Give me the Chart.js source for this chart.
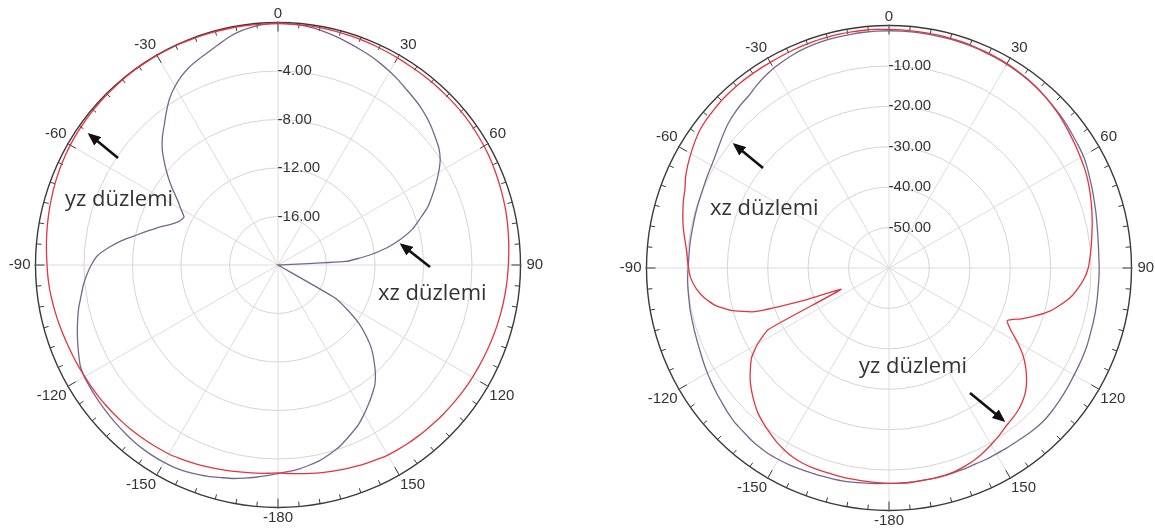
<!DOCTYPE html>
<html lang="tr">
<head>
<meta charset="UTF-8" />
<title>yz / xz düzlemi ışıma diyagramları</title>
<script src="https://cdn.jsdelivr.net/npm/chart.js"></script>
<style>
  body { margin: 0; background: #fff; overflow: hidden; width: 1155px; height: 531px; position: relative; }
  canvas { position: absolute; }
  #leftChart { left: -22px; top: 4px; }
  #rightChart { left: 589px; top: 7px; }
  .note { position: absolute; font-family: 'Open Sans', sans-serif; font-size: 22px; line-height: 1; color: #333; white-space: nowrap; }
  svg { position: absolute; left: 0; top: 0; }
</style>
</head>
<body>
<canvas id="leftChart" width="600" height="524"></canvas>
<canvas id="rightChart" width="600" height="524"></canvas>

<div class="note" style="left:65px;top:186px">yz düzlemi</div>
<div class="note" style="left:378px;top:280px">xz düzlemi</div>
<div class="note" style="left:710px;top:195px">xz düzlemi</div>
<div class="note" style="left:859px;top:353px">yz düzlemi</div>

<svg width="1155" height="531">
  <defs>
    <marker id="head" markerUnits="userSpaceOnUse" markerWidth="13" markerHeight="11" refX="10" refY="5.5" orient="auto">
      <path d="M0,0 L13,5.5 L0,11 z" fill="#111" />
    </marker>
  </defs>
  <g stroke="#111" stroke-width="2.6" marker-end="url(#head)">
    <line x1="118" y1="158" x2="90" y2="135" />
    <line x1="430" y1="267" x2="402" y2="245" />
    <line x1="763" y1="168" x2="735" y2="145" />
    <line x1="970" y1="393" x2="1003" y2="420" />
  </g>
</svg>

<script>
  // angle categories, 3 degree steps, clockwise from the top
  const angles = [
    0, 3, 6, 9, 12, 15, 18, 21, 24, 27, 30, 33, 36, 39, 42, 45, 48, 51, 54, 57,
    60, 63, 66, 69, 72, 75, 78, 81, 84, 87, 90, 93, 96, 99, 102, 105, 108, 111, 114, 117,
    120, 123, 126, 129, 132, 135, 138, 141, 144, 147, 150, 153, 156, 159, 162, 165, 168, 171, 174, 177,
    180, 183, 186, 189, 192, 195, 198, 201, 204, 207, 210, 213, 216, 219, 222, 225, 228, 231, 234, 237,
    240, 243, 246, 249, 252, 255, 258, 261, 264, 267, 270, 273, 276, 279, 282, 285, 288, 291, 294, 297,
    300, 303, 306, 309, 312, 315, 318, 321, 324, 327, 330, 333, 336, 339, 342, 345, 348, 351, 354, 357,
  ]

  // left pattern (dB), 0..180 then -177..-3
  const leftYz = [
    -0.10, -0.10, -0.11, -0.12, -0.13, -0.15, -0.17, -0.20, -0.23, -0.26,
    -0.28, -0.30, -0.30, -0.30, -0.30, -0.30, -0.30, -0.30, -0.32, -0.35,
    -0.38, -0.42, -0.48, -0.54, -0.60, -0.66, -0.72, -0.80, -0.87, -0.94,
    -1.00, -1.05, -1.10, -1.15, -1.20, -1.25, -1.30, -1.35, -1.40, -1.44,
    -1.48, -1.52, -1.56, -1.60, -1.64, -1.68, -1.72, -1.76, -1.80, -1.85,
    -1.90, -2.00, -2.10, -2.20, -2.30, -2.40, -2.50, -2.60, -2.70, -2.78,
    -2.85,
    -2.80, -2.74, -2.68, -2.60, -2.50, -2.40, -2.30, -2.20, -2.10, -2.00,
    -1.95, -1.90, -1.85, -1.80, -1.76, -1.72, -1.68, -1.65, -1.62, -1.60,
    -1.55, -1.50, -1.45, -1.38, -1.30, -1.22, -1.14, -1.06, -1.00, -0.95,
    -0.88, -0.80, -0.72, -0.64, -0.56, -0.48, -0.40, -0.33, -0.27, -0.22,
    -0.18, -0.15, -0.12, -0.10, -0.08, -0.07, -0.06, -0.05, -0.05, -0.05,
    -0.05, -0.05, -0.06, -0.06, -0.07, -0.08, -0.08, -0.09, -0.10,
  ]
  const leftXz = [
    -0.05, -0.08, -0.15, -0.27, -0.42, -0.60, -0.80, -0.98, -1.15, -1.36,
    -1.58, -1.80, -2.05, -2.25, -2.45, -2.70, -2.98, -3.30, -3.60, -4.05,
    -4.70, -5.40, -6.10, -6.80, -7.70, -8.50, -9.60, -10.90, -12.50, -14.40,
    -20, -20, -20, -20, -20, -20, -20, -20, -20, -20,
    -14.6, -13.1, -11.7, -10.6, -9.6, -8.8, -8.0, -7.3, -6.8, -6.3,
    -5.8, -5.3, -4.9, -4.5, -4.1, -3.8, -3.5, -3.3, -3.1, -2.95,
    -2.8,
    -2.6, -2.4, -2.2, -2.0, -1.85, -1.65, -1.5, -1.35, -1.25, -1.2,
    -1.18, -1.18, -1.2, -1.25, -1.3, -1.35, -1.4, -1.45, -1.5, -1.55,
    -1.7, -2.0, -2.3, -2.6, -2.9, -3.2, -3.55, -3.85, -4.2, -4.6,
    -5.1, -6.0, -7.0, -8.1, -9.0, -9.8, -10.6, -11.1, -11.3, -10.75,
    -10.1, -9.2, -8.3, -7.4, -6.5, -5.75, -5.1, -4.35, -3.6, -3.0,
    -2.5, -2.1, -1.8, -1.5, -1.15, -0.75, -0.45, -0.25, -0.1,
  ]

  // right pattern (dB)
  const rightYz = [
    -0.95, -1.0, -1.05, -1.1, -1.12, -1.15, -1.2, -1.3, -1.4, -1.5,
    -1.6, -1.8, -2.0, -2.3, -2.6, -3.0, -3.4, -3.9, -4.4, -4.85,
    -5.3, -5.7, -6.2, -6.8, -7.4, -8.0, -8.6, -9.2, -9.7, -10.2,
    -10.7, -11.6, -12.9, -14.4, -16.5, -18.8, -21.8, -24.9, -28.0, -26.2,
    -23.3, -20.5, -18.2, -16.2, -14.5, -13.3, -12.4, -11.8, -11.2, -10.3,
    -9.5, -8.7, -8.0, -7.5, -7.1, -6.9, -6.8, -6.8, -6.7, -6.7,
    -6.7,
    -6.8, -6.9, -7.0, -7.0, -7.1, -7.1, -7.1, -7.2, -7.5, -8.1,
    -8.8, -9.7, -10.6, -11.6, -12.9, -14.3, -15.8, -17.6, -19.5, -22.5,
    -26.5, -47.0, -38.0, -25.0, -19.5, -15.9, -13.6, -12.0, -10.9, -10.4,
    -10.0, -9.5, -8.7, -7.9, -7.2, -6.5, -5.9, -4.9, -4.1, -3.4,
    -2.7, -2.1, -1.8, -1.6, -1.4, -1.3, -1.25, -1.25, -1.25, -1.25,
    -1.2, -1.1, -1.0, -0.9, -0.9, -0.85, -0.85, -0.85, -0.9,
  ]
  const rightXz = [
    -1.3, -1.3, -1.3, -1.35, -1.4, -1.4, -1.45, -1.5, -1.6, -1.7,
    -1.8, -1.95, -2.1, -2.3, -2.6, -2.9, -3.2, -3.5, -3.9, -4.2,
    -4.5, -5.0, -5.6, -6.1, -6.6, -7.0, -7.4, -7.7, -7.9, -8.0,
    -8.0, -8.0, -8.0, -7.9, -7.8, -7.7, -7.6, -7.4, -7.3, -7.2,
    -7.1, -6.9, -6.7, -6.5, -6.3, -6.2, -6.3, -6.5, -6.7, -6.8,
    -6.9, -6.9, -7.0, -6.9, -6.9, -6.8, -6.8, -6.8, -6.7, -6.7,
    -6.7,
    -6.6, -6.5, -6.3, -6.1, -6.0, -5.9, -5.8, -5.6, -5.4, -5.3,
    -5.2, -5.3, -5.5, -5.8, -6.0, -6.4, -6.9, -7.3, -7.7, -8.1,
    -8.5, -8.9, -9.2, -9.4, -9.6, -9.7, -9.9, -10.0, -10.1, -10.3,
    -10.4, -10.4, -10.4, -10.4, -10.3, -10.2, -10.1, -9.9, -9.6, -9.3,
    -8.8, -8.1, -7.3, -6.5, -5.9, -5.4, -5.0, -4.2, -3.5, -2.9,
    -2.5, -2.1, -1.8, -1.6, -1.5, -1.45, -1.4, -1.35, -1.3,
  ]

  const RED = 'rgb(228, 52, 62)'
  const PURPLE = 'rgb(118, 102, 142)'

  Chart.defaults.font.family = "'Liberation Sans', Arial, sans-serif"

  // small ticks on the outer ring every 5 degrees
  const rimTicks = {
    id: 'rimTicks',
    beforeDatasetsDraw(chart) {
      const s = chart.scales.r
      const ctx = chart.ctx
      ctx.save()
      ctx.strokeStyle = '#3a3a3a'
      ctx.lineWidth = 1
      for (let a = 0; a < 360; a += 5) {
        const t = ((a - 90) * Math.PI) / 180
        const len = a % 30 === 0 ? 9 : 5
        const r0 = s.drawingArea + (a % 30 === 0 ? 1 : 0)
        const r1 = s.drawingArea - len
        ctx.beginPath()
        ctx.moveTo(s.xCenter + Math.cos(t) * r0, s.yCenter + Math.sin(t) * r0)
        ctx.lineTo(s.xCenter + Math.cos(t) * r1, s.yCenter + Math.sin(t) * r1)
        ctx.stroke()
      }
      ctx.restore()
    },
  }

  // label gap from the ring, per angle index
  function labelPadding(c) {
    if (c.index === 0) return -8
    if (c.index === 30) return -1.5
    if (c.index === 90) return -2.5
    return -6
  }

  function polarChart(id, yz, xz, min, step) {
    return new Chart(document.getElementById(id), {
      type: 'radar',
      data: {
        labels: angles,
        datasets: [
          { label: 'yz düzlemi', data: yz, borderColor: RED },
          { label: 'xz düzlemi', data: xz, borderColor: PURPLE },
        ],
      },
      options: {
        responsive: false,
        animation: false,
        plugins: { legend: { display: false }, tooltip: { enabled: false } },
        elements: {
          point: { radius: 0 },
          line: { borderWidth: 1.3, tension: 0.15, fill: false },
        },
        scales: {
          r: {
            min: min,
            max: 0,
            ticks: {
              stepSize: step,
              showLabelBackdrop: false,
              backdropPadding: 0,
              color: '#333',
              font: { size: 15 },
              callback: (v) => {
                if (v === 0 || v === min) return ''
                const txt = v.toFixed(2)
                return ' '.repeat(txt.length * 2 - 2) + txt
              },
            },
            grid: {
              circular: true,
              color: (c) => (c.tick && c.tick.value === 0 ? '#3a3a3a' : '#d4d4d4'),
              lineWidth: (c) => (c.tick && c.tick.value === 0 ? 1.4 : 1),
            },
            angleLines: {
              color: (c) => (c.index % 10 === 0 ? '#dcdcdc' : 'rgba(0,0,0,0)'),
              lineWidth: (c) => (c.index % 10 === 0 ? 1 : 0),
            },
            pointLabels: {
              color: '#333',
              font: (c) => ({ size: c.index % 10 === 0 ? 15 : 1 }),
              padding: labelPadding,
              callback: (l) => (l % 30 === 0 ? String(l >= 180 ? l - 360 : l) : ''),
            },
          },
        },
      },
      plugins: [rimTicks],
    })
  }

  polarChart('leftChart', leftYz, leftXz, -20, 4)
  polarChart('rightChart', rightYz, rightXz, -60, 10)
</script>
</body>
</html>
